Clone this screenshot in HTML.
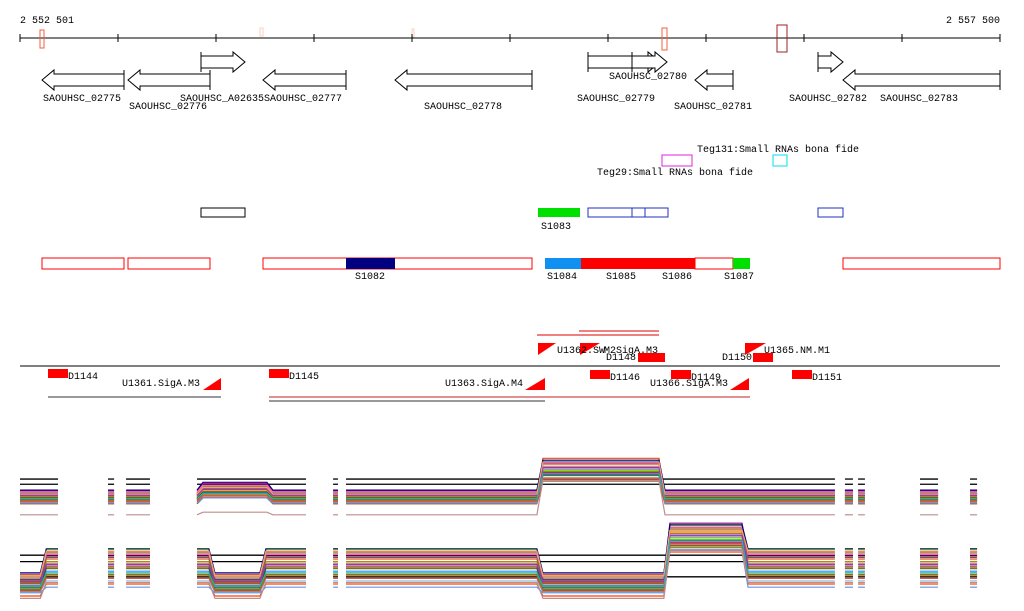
<!DOCTYPE html>
<html><head><meta charset="utf-8"><style>
html,body{margin:0;padding:0;background:#fff;}
svg{display:block;font-family:"Liberation Mono",monospace;font-size:10px;}
</style></head><body>
<svg id="c" width="1024" height="611" viewBox="0 0 1024 611" xmlns="http://www.w3.org/2000/svg">
<rect width="1024" height="611" fill="#fff"/>
<g>
<line x1="20" y1="38" x2="1000" y2="38" stroke="#000"/>
<text x="20" y="23">2 552 501</text>
<text x="1000" y="23" text-anchor="end">2 557 500</text>
<rect x="40" y="30" width="4" height="18" fill="none" stroke="#f06040"/>
<rect x="260" y="28" width="3" height="8" fill="none" stroke="#f8d0c0"/>
<rect x="412" y="29" width="2" height="8" fill="none" stroke="#f8d0c0"/>
<rect x="662" y="28" width="5" height="22" fill="none" stroke="#f06040"/>
<rect x="777" y="25" width="10" height="27" fill="none" stroke="#a02020"/>
</g>
<g id="genes"></g>
<g>
<rect x="662" y="155" width="30" height="11" fill="none" stroke="#e020e0"/>
<rect x="773" y="155" width="14" height="11" fill="none" stroke="#00e0f0"/>
<text x="697" y="152">Teg131:Small RNAs bona fide</text>
<text x="597" y="175">Teg29:Small RNAs bona fide</text>
</g>
<g>
<rect x="201" y="208" width="44" height="9" fill="none" stroke="#000"/>
<rect x="538" y="208" width="42" height="9" fill="#00e000"/>
<rect x="588" y="208" width="80" height="9" fill="none" stroke="#2030c0"/>
<line x1="632" y1="208" x2="632" y2="217" stroke="#2030c0"/><line x1="645" y1="208" x2="645" y2="217" stroke="#2030c0"/>
<rect x="818" y="208" width="25" height="9" fill="none" stroke="#2030c0"/>
<text x="541" y="229">S1083</text>
</g>
<g>
<rect x="42" y="258" width="82" height="11" fill="none" stroke="#f00"/>
<rect x="128" y="258" width="82" height="11" fill="none" stroke="#f00"/>
<rect x="263" y="258" width="269" height="11" fill="none" stroke="#f00"/>
<rect x="346" y="258" width="49" height="11" fill="#000080"/>
<rect x="545" y="258" width="36" height="11" fill="#1090f0"/>
<rect x="581" y="258" width="114" height="11" fill="#f00"/>
<rect x="695" y="258" width="38" height="11" fill="none" stroke="#f00"/>
<rect x="733" y="258" width="17" height="11" fill="#00e000"/>
<rect x="843" y="258" width="157" height="11" fill="none" stroke="#f00"/>
<text x="355" y="279">S1082</text>
<text x="547" y="279">S1084</text>
<text x="606" y="279">S1085</text>
<text x="662" y="279">S1086</text>
<text x="724" y="279">S1087</text>
</g>
<g fill="#f00">
<line x1="20" y1="366" x2="1000" y2="366" stroke="#000"/>
<line x1="537" y1="335" x2="659" y2="335" stroke="#e00000"/>
<line x1="579" y1="331" x2="659" y2="331" stroke="#e00000"/>
<line x1="48" y1="397" x2="221" y2="397" stroke="#333"/>
<line x1="269" y1="397" x2="750" y2="397" stroke="#c02020"/>
<line x1="269" y1="401" x2="545" y2="401" stroke="#333"/>
<rect x="48" y="369" width="20" height="9"/>
<rect x="269" y="369" width="20" height="9"/>
<rect x="590" y="370" width="20" height="9"/>
<rect x="671" y="370" width="20" height="9"/>
<rect x="792" y="370" width="20" height="9"/>
<rect x="638" y="353" width="27" height="9"/>
<rect x="753" y="353" width="20" height="9"/>
<polygon points="203,390 221,378 221,390"/>
<polygon points="525,390 545,378 545,390"/>
<polygon points="730,390 749,378 749,390"/>
<polygon points="538,343 556,343 538,355"/>
<polygon points="580,343 600,343 580,355"/>
<polygon points="745,343 766,343 745,355"/>
<g fill="#000">
<text x="68" y="379">D1144</text><text x="289" y="379">D1145</text><text x="610" y="380">D1146</text>
<text x="691" y="380">D1149</text><text x="812" y="380">D1151</text><text x="722" y="360">D1150</text>
<text x="606" y="360">D1148</text>
<text x="122" y="386">U1361.SigA.M3</text><text x="445" y="386">U1363.SigA.M4</text>
<text x="650" y="386">U1366.SigA.M3</text><text x="557" y="353">U1362.SW</text>
<text x="604" y="353">M2SigA.M3</text><text x="764" y="353">U1365.NM.M1</text>
</g>
</g>
<g id="expr"></g>
</svg>
<script>
var NS="http://www.w3.org/2000/svg";
var svg=document.getElementById('c');
function el(t,a,p){var e=document.createElementNS(NS,t);for(var k in a)e.setAttribute(k,a[k]);(p||svg).appendChild(e);return e;}
var G0=2552501,G1=2557500;
function gx(p){return 20+(p-G0)/(G1-G0)*980;}

// genes: name, start, end, strand, row, label x, label y
var geneNames=["SAOUHSC_02775","SAOUHSC_02776","SAOUHSC_A02635","SAOUHSC_02777","SAOUHSC_02778","SAOUHSC_02779","SAOUHSC_02780","SAOUHSC_02781","SAOUHSC_02782","SAOUHSC_02783"];
var geneX1=[42,128,201,263,395,588,632,695,818,843];
var geneX2=[124,210,245,346,532,660,667,733,843,1000];
var geneDir=[-1,-1,1,-1,-1,1,1,-1,1,-1];
var geneLx=[43,129,180,264,424,577,609,674,789,880];
var geneLy=[101,109,101,101,109,101,79,109,101,101];
var gg=document.getElementById('genes');
for(var i=0;i<geneNames.length;i++){
  var a=geneX1[i],b=geneX2[i],d=geneDir[i],yc=d>0?62:80,h=12;
  var pts=d<0?[[a,yc],[a+h,yc-10],[a+h,yc-6],[b,yc-6],[b,yc+6],[a+h,yc+6],[a+h,yc+10]]
             :[[b,yc],[b-h,yc-10],[b-h,yc-6],[a,yc-6],[a,yc+6],[b-h,yc+6],[b-h,yc+10]];
  var p=el('polygon',{points:pts.map(function(q){return q.join(',');}).join(' '),fill:'#fff',stroke:'#000'},gg);
  
  
  var tx=d<0?b:a;
  el('line',{x1:tx,y1:yc-10,x2:tx,y2:yc+10,stroke:'#000'},gg);
  var t=el('text',{x:geneLx[i],y:geneLy[i]},gg);t.textContent=geneNames[i];
  
  
}
var tk=[0,1,2,3,4,5,6,7,8,9,10];
tk.forEach(function(k){el('line',{x1:20+k*98,y1:34,x2:20+k*98,y2:42,stroke:'#000'});});

// expression data
var colors=["#8b4513","#d2691e","#ff6347","#9acd32","#7fff00","#87ceeb","#1e90ff","#800080","#c71585","#b8860b","#ff4500","#daa520","#556b2f","#a0522d","#6495ed","#ff69b4","#2f4f4f","#000080","#808000","#cd5c5c","#9932cc","#f4a460","#20b2aa","#bc8f8f"];
var t1Base=[2.5,3.0,3.3,3.6,3.8,4.0,4.2,3.2,4.5,3.9,2.8,3.5,4.1,3.7,2.6,4.3,3.4,4.6,3.1,2.9,3.8,4.0,3.3,0.8];
var t1Left=[3.4,3.8,4.4,4.6,4.8,5.2,5.0,4.1,5.6,4.9,3.5,4.6,5.1,4.7,3.4,5.3,4.3,5.8,4.0,3.7,4.8,5.0,4.1,1.2];
var t1Peak=[6.0,7.2,8.0,8.5,7.6,6.8,9.0,8.8,7.3,6.5,9.5,8.2,7.0,6.2,7.8,8.6,6.9,9.2,7.5,6.4,8.1,8.9,7.1,6.1];
var t2Base=[3.0,4.2,5.1,5.8,6.3,2.4,3.6,5.5,6.0,4.8,2.0,3.9,5.3,4.5,1.6,5.7,4.0,6.4,3.2,2.7,4.4,6.1,3.4,2.2];
var t2Dip=[1.2,2.0,2.4,2.8,3.0,1.0,1.8,2.6,3.2,2.2,0.5,1.6,2.5,2.1,0.9,2.9,1.5,3.4,1.3,1.1,2.3,3.1,1.7,0.2];
var t2High=[7.0,8.3,8.8,9.3,7.6,6.5,8.0,9.6,7.2,8.5,6.0,7.8,9.0,6.8,6.2,9.1,7.4,9.4,6.6,7.1,8.1,8.7,7.5,6.3];
var t1Ref=[6.3,5.5];
var t2Ref=[5.6,4.8,2.9];
var windows=[[2552501,2552695],[2552950,2552981],[2553042,2553164],[2553404,2553960],[2554098,2554123],[2554164,2556658],[2556709,2556750],[2556776,2556811],[2557092,2557184],[2557347,2557383]];
var t1Regions=[[2552501,2553419,'b'],[2553419,2553776,'l'],[2553776,2555153,'b'],[2555153,2555776,'p'],[2555776,2557500,'b']];
var t2Regions=[[2552501,2552620,'d'],[2552620,2553480,'b'],[2553480,2553740,'d'],[2553740,2555153,'b'],[2555153,2555801,'d'],[2555801,2556199,'h'],[2556199,2557500,'b']];
function y1(v){return 520-v*6.5;}
function y2(v){return 600-v*8;}
var eg=document.getElementById('expr');
function drawTrack(regions,vals,yf,refs,name){
  var g=el('g',{},eg);
  
  
  windows.forEach(function(w){
    refs.forEach(function(r){el('line',{x1:gx(w[0]),x2:gx(w[1]),y1:yf(r),y2:yf(r),stroke:'#000','stroke-width':1.3},g);});
  });
  for(var s=0;s<colors.length;s++){
    windows.forEach(function(w){
      var pts=[];
      regions.forEach(function(r){
        var a=Math.max(r[0],w[0]),b=Math.min(r[1],w[1]);
        if(a>=b)return;
        var v=vals[r[2]][s],xa=gx(a),xb=gx(b);
        if(a>w[0])xa+=3; if(b<w[1])xb-=3;
        pts.push([xa,yf(v)],[xb,yf(v)]);
      });
      if(!pts.length)return;
      var pl=el('polyline',{points:pts.map(function(q){return q[0].toFixed(1)+','+q[1].toFixed(1);}).join(' '),fill:'none',stroke:colors[s],'stroke-width':1.2},g);
      
      
    });
  }
}
drawTrack(t1Regions,{b:t1Base,l:t1Left,p:t1Peak},y1,t1Ref,'expression-track-1');
drawTrack(t2Regions,{b:t2Base,d:t2Dip,h:t2High},y2,t2Ref,'expression-track-2');
</script>
</body></html>
